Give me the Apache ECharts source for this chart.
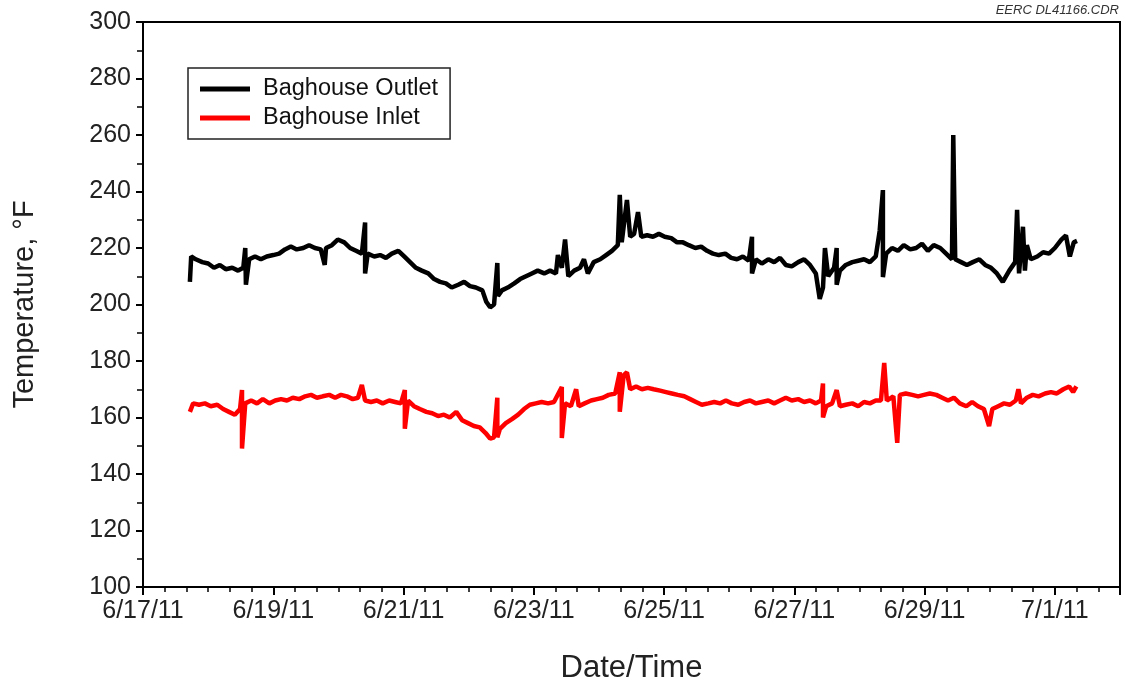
<!DOCTYPE html>
<html>
<head>
<meta charset="utf-8">
<script src="https://cdn.jsdelivr.net/npm/echarts@6/dist/echarts.min.js"></script>
<style>
html,body{margin:0;padding:0;background:#fff;}
#chart{width:1127px;height:685px;}
</style>
</head>
<body>
<div id="chart"></div>
<script>
// x values: days since 6/17/11 00:00
const dateTickLabels = ["6/17/11","6/19/11","6/21/11","6/23/11","6/25/11","6/27/11","6/29/11","7/1/11"];

const outletTime = [0.72,0.74,0.81,0.91,1.00,1.09,1.18,1.27,1.37,1.46,1.54,1.57,1.58,1.63,1.72,1.81,1.90,2.00,2.09,2.18,2.27,2.36,2.46,2.55,2.64,2.73,2.79,2.81,2.90,2.99,3.09,3.18,3.27,3.36,3.41,3.41,3.45,3.55,3.64,3.73,3.82,3.92,4.01,4.10,4.19,4.28,4.38,4.47,4.56,4.65,4.74,4.84,4.93,5.02,5.11,5.21,5.27,5.33,5.39,5.44,5.45,5.51,5.60,5.70,5.79,5.88,5.97,6.06,6.16,6.25,6.34,6.37,6.43,6.48,6.53,6.62,6.71,6.77,6.83,6.92,7.02,7.11,7.20,7.29,7.32,7.35,7.43,7.48,7.54,7.60,7.65,7.74,7.83,7.92,8.01,8.11,8.20,8.29,8.38,8.48,8.57,8.66,8.75,8.84,8.94,9.03,9.12,9.21,9.30,9.35,9.35,9.41,9.50,9.60,9.69,9.78,9.87,9.96,10.06,10.15,10.24,10.33,10.39,10.44,10.47,10.52,10.61,10.65,10.65,10.70,10.79,10.89,10.98,11.07,11.16,11.25,11.31,11.36,11.36,11.41,11.50,11.59,11.68,11.78,11.87,11.96,12.05,12.14,12.24,12.33,12.42,12.44,12.47,12.56,12.65,12.74,12.84,12.93,13.02,13.11,13.20,13.30,13.39,13.42,13.45,13.51,13.54,13.57,13.63,13.73,13.82,13.91,14.00,14.10,14.17,14.23,14.29,14.34];
const outletTemp = [208,217,216,215,214.5,213,214,212.5,213,212,213,220,207,216,217,216,217,217.5,218,219.5,220.5,219.5,220,221,220,219.5,214,220,221,223,222,220,219,218,229,211,218,217,217.5,216.5,218,219,217,215,213,212,211,209,208,207.5,206,207,208,206.5,206,205,201,199,200,214.7,203,205,206,207.5,209,210,211,212,211,212,211,217.5,213,223,210,212,213,216,211,215,216,217.5,219,221,238.8,222,237,224,225,232.7,224,224.5,224,225,224,223.5,222,222,221,220,220.5,219,218,217.5,218,216.5,216,217,215.5,224,211,216,214.5,216,215,216.5,214,213.5,215,216,214,211,202,206,220,210,213,220,207,212,214,215,215.5,216,215,217,226,240.5,209.7,218,220,219,221,219.5,220,221.5,219,221,220,218,216,260,216,215,214,215,216,214,213,211,208,212,215,233.5,211,227.5,212,221,216,217,218.5,218,220,223,224.5,217,222,222.5];

const inletTime = [0.72,0.77,0.86,0.95,1.04,1.14,1.23,1.32,1.41,1.49,1.52,1.52,1.57,1.66,1.75,1.84,1.94,2.03,2.12,2.21,2.30,2.40,2.49,2.58,2.67,2.76,2.86,2.95,3.04,3.13,3.22,3.30,3.36,3.41,3.50,3.59,3.68,3.78,3.87,3.96,4.02,4.02,4.07,4.16,4.25,4.35,4.44,4.53,4.62,4.71,4.81,4.90,4.99,5.08,5.17,5.26,5.33,5.39,5.44,5.44,5.48,5.57,5.67,5.76,5.85,5.94,6.03,6.12,6.22,6.31,6.43,6.43,6.48,6.57,6.65,6.69,6.78,6.88,6.97,7.06,7.15,7.25,7.32,7.32,7.38,7.43,7.48,7.57,7.66,7.75,7.84,7.94,8.03,8.12,8.21,8.31,8.40,8.49,8.58,8.68,8.77,8.86,8.95,9.04,9.14,9.23,9.32,9.41,9.50,9.60,9.69,9.78,9.87,9.96,10.06,10.15,10.24,10.33,10.41,10.44,10.44,10.49,10.58,10.65,10.70,10.79,10.89,10.98,11.07,11.16,11.25,11.33,11.38,11.42,11.52,11.58,11.62,11.71,11.81,11.90,11.99,12.08,12.18,12.27,12.36,12.45,12.54,12.64,12.73,12.82,12.91,12.99,13.04,13.13,13.22,13.31,13.40,13.44,13.48,13.57,13.66,13.75,13.85,13.94,14.03,14.13,14.22,14.28,14.33];
const inletTemp = [162,165,164.5,165,164,164.5,163,162,161,163,169.7,149,165,166,165,166.5,165,166,166.5,166,167,166.5,167.5,168,167,167.5,168,167,168,167.5,166.5,167,171.5,166,165.5,166,165,166,165.5,165,169.7,156,166,164,163,162,161.5,160.5,161,160,162,159,158,157,156.5,154.5,152.5,153,167,153,156,158,159.5,161,163,164.5,165,165.5,165,165.5,170.8,152.7,165,164,170,164,165,166,166.5,167,168,168.5,176,162,175,176,170,171,170,170.5,170,169.5,169,168.5,168,167.5,166.5,165.5,164.5,165,165.5,165,166,165,164.5,165.5,166,165,165.5,166,165,166,167,166,166.5,165.5,166,165,166,172,160,164,165,169.7,164,164.5,165,164,165.5,165,166,166,179.3,166,167.5,151,168,168.5,168,167.5,168,168.5,168,167,166,167,165,164,165.5,164,163,157,163,164,165,164.5,166,170,165,167,168,167.5,168.5,169,168.5,170,171,169,171];

function pairs(t, v) { return t.map((x, i) => [x, v[i]]); }

const chart = echarts.init(document.getElementById('chart'), null, {renderer: 'canvas'});
const font = 'Liberation Sans, Arial, sans-serif';
chart.setOption({
  animation: false,
  backgroundColor: '#fff',
  grid: {left: 143, right: 7, top: 22, bottom: 98, outerBoundsMode: 'none', containLabel: false,
    show: true, borderColor: '#000', borderWidth: 2, backgroundColor: 'transparent'},
  legend: {
    orient: 'vertical', left: 188, top: 68,
    borderColor: '#222', borderWidth: 1.5,
    padding: [9, 12, 9, 12], itemGap: 5,
    itemWidth: 50, itemHeight: 5,
    textStyle: {fontFamily: font, fontSize: 23.5, color: '#111', padding: [0, 0, 0, 8]},
    data: [{name: 'Baghouse Outlet', icon: 'rect'}, {name: 'Baghouse Inlet', icon: 'rect'}]
  },
  xAxis: {
    type: 'value', min: 0, max: 15, interval: 2,
    name: 'Date/Time', nameLocation: 'middle', nameGap: 66,
    nameTextStyle: {fontFamily: font, fontSize: 31, color: '#222'},
    axisLine: {show: true, lineStyle: {color: '#000', width: 2}},
    axisTick: {show: true, inside: false, length: 8, lineStyle: {color: '#000', width: 2}},
    minorTick: {show: true, splitNumber: 6, length: 5, lineStyle: {color: '#000', width: 1.5}},
    axisLabel: {fontFamily: font, fontSize: 25, color: '#222', margin: 12,
      formatter: v => (v % 2 === 0 && v / 2 < dateTickLabels.length) ? dateTickLabels[v / 2] : ''},
    splitLine: {show: false}
  },
  yAxis: {
    type: 'value', min: 100, max: 300, interval: 20,
    name: 'Temperature, °F', nameLocation: 'middle', nameGap: 104,
    nameTextStyle: {fontFamily: font, fontSize: 29, color: '#222'},
    axisLine: {show: true, lineStyle: {color: '#000', width: 2}},
    axisTick: {show: true, inside: false, length: 7, lineStyle: {color: '#000', width: 2}},
    minorTick: {show: true, splitNumber: 2, length: 6, lineStyle: {color: '#000', width: 1.5}},
    axisLabel: {fontFamily: font, fontSize: 25, color: '#222', margin: 12},
    splitLine: {show: false}
  },
  graphic: [{
    type: 'text', right: 8, top: 4,
    style: {text: 'EERC DL41166.CDR', font: 'italic 13px Liberation Sans, Arial, sans-serif', fill: '#333'}
  }],
  series: [
    {name: 'Baghouse Outlet', type: 'line', data: pairs(outletTime, outletTemp), showSymbol: false,
      color: '#000', lineStyle: {color: '#000', width: 4.5}},
    {name: 'Baghouse Inlet', type: 'line', data: pairs(inletTime, inletTemp), showSymbol: false,
      color: '#ff0000', lineStyle: {color: '#ff0000', width: 4.5}}
  ]
});
</script>
</body>
</html>
